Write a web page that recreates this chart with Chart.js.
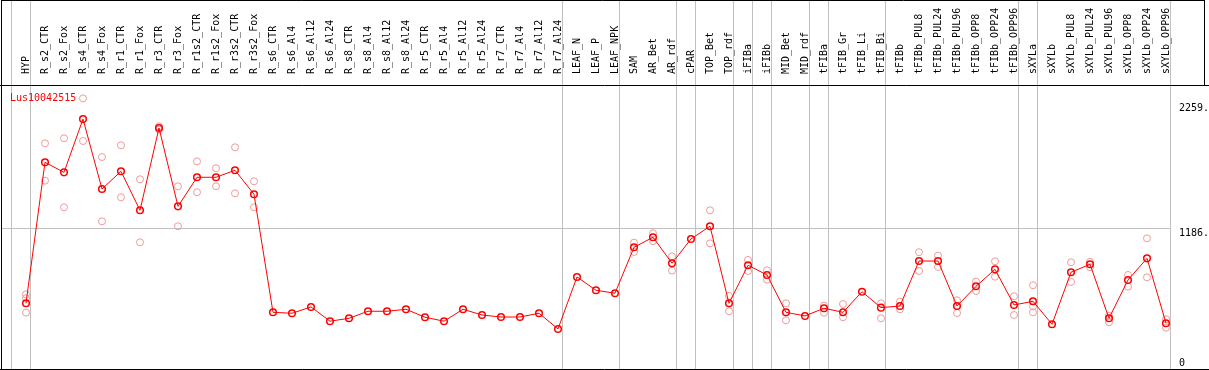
<!DOCTYPE html>
<html>
<head>
<meta charset="utf-8">
<script src="https://cdn.jsdelivr.net/npm/chart.js@4/dist/chart.umd.min.js"></script>
<style>
  html, body { margin: 0; padding: 0; background: #fff; }
  #wrap { width: 1209px; height: 370px; }
</style>
</head>
<body>
<div id="wrap"><canvas id="probeChart" width="1209" height="370"></canvas></div>
<script>
// samples along the x axis
const categories = [
  'HYP', 'R_s2_CTR', 'R_s2_Fox', 'R_s4_CTR', 'R_s4_Fox', 'R_r1_CTR', 'R_r1_Fox', 'R_r3_CTR', 'R_r3_Fox', 'R_r1s2_CTR',
  'R_r1s2_Fox', 'R_r3s2_CTR', 'R_r3s2_Fox', 'R_s6_CTR', 'R_s6_Al4', 'R_s6_Al12', 'R_s6_Al24', 'R_s8_CTR', 'R_s8_Al4', 'R_s8_Al12',
  'R_s8_Al24', 'R_r5_CTR', 'R_r5_Al4', 'R_r5_Al12', 'R_r5_Al24', 'R_r7_CTR', 'R_r7_Al4', 'R_r7_Al12', 'R_r7_Al24', 'LEAF_N',
  'LEAF_P', 'LEAF_NPK', 'SAM', 'AR_Bet', 'AR_rdf', 'cPAR', 'TOP_Bet', 'TOP_rdf', 'iFIBa', 'iFIBb',
  'MID_Bet', 'MID_rdf', 'tFIBa', 'tFIB_Gr', 'tFIB_Li', 'tFIB_Bi', 'tFIBb', 'tFIBb_PUL8', 'tFIBb_PUL24', 'tFIBb_PUL96',
  'tFIBb_OPP8', 'tFIBb_OPP24', 'tFIBb_OPP96', 'sXYLa', 'sXYLb', 'sXYLb_PUL8', 'sXYLb_PUL24', 'sXYLb_PUL96', 'sXYLb_OPP8', 'sXYLb_OPP24',
  'sXYLb_OPP96'
];

// last sample of each group (grey separators)
const groupEnds = ['HYP', 'R_r7_Al24', 'LEAF_NPK', 'AR_rdf', 'cPAR', 'TOP_rdf', 'iFIBa', 'iFIBb',
  'MID_rdf', 'tFIBa', 'tFIB_Bi', 'tFIBb_OPP96', 'sXYLa', 'sXYLb_OPP96'];

const probeName = 'Lus10042515';

// mean expression
const means = [
  546, 1750, 1664, 2119, 1522, 1673, 1340, 2043, 1374, 1622,
  1622, 1682, 1477, 469, 461, 515, 393, 418, 478, 478,
  495, 427, 393, 495, 446, 429, 429, 461, 327, 771,
  657, 632, 1024, 1110, 888, 1095, 1204, 546, 871, 788,
  469, 438, 504, 469, 645, 509, 523, 907, 907, 523,
  691, 836, 532, 563, 367, 811, 879, 418, 745, 930,
  376
];

// replicates
const rep1 = [
  623, 1912, 1955, 2296, 1795, 1895, 1605, 2057, 1545, 1758,
  1699, 1878, 1588, null, null, null, null, null, null, null,
  null, null, null, null, null, null, null, null, null, null,
  null, null, 1064, 1144, 947, null, 1340, 609, 916, 828,
  546, null, 526, 540, null, 546, 560, 982, 953, 572,
  731, 905, 606, 700, null, 896, 901, 440, 788, 1101,
  410
];
const rep2 = [
  589, 1593, 1366, 1932, 1246, 1451, 1067, 2030, 1204, 1494,
  1545, 1485, 1366, null, null, null, null, null, null, null,
  null, null, null, null, null, null, null, null, null, null,
  null, null, 985, 1076, 825, null, 1058, 478, 822, 748,
  401, null, 466, 427, null, 418, 495, 822, 856, 463,
  651, 773, 446, 469, null, 728, 854, 384, 688, 768,
  338
];
const rep3 = [
  466, null, null, null, null, null, null, null, null, null,
  null, null, null, null, null, null, null, null, null, null,
  null, null, null, null, null, null, null, null, null, null,
  null, null, null, null, null, null, null, null, null, null,
  null, null, null, null, null, null, null, null, null, null,
  null, null, null, 520, null, null, null, null, null, null,
  null
];

const yTicks = [0, 1186, 2259];
const yTickLabels = ['0', '1186.', '2259.'];

document.addEventListener('DOMContentLoaded', function() {
    const FONT = '10px "DejaVu Sans Mono", monospace';
    Chart.defaults.font.family = '"DejaVu Sans Mono", monospace';
    Chart.defaults.font.size = 10;
    Chart.defaults.color = '#000';

    const toPoints = (arr) => arr.map((v, i) => ({ x: i, y: v }));

    // grey group separators, black frame, probe name, right-hand values
    const framePlugin = {
        id: 'frame',
        beforeDatasetsDraw(chart) {
            const { ctx, chartArea, scales } = chart;
            ctx.save();
            ctx.strokeStyle = '#c0c0c0';
            ctx.lineWidth = 1;
            const ends = [-1].concat(groupEnds.map(n => categories.indexOf(n)));
            ends.forEach(i => {
                const px = Math.floor(scales.x.getPixelForValue(i + 0.24)) + 0.5;
                ctx.beginPath();
                ctx.moveTo(px, 0);
                ctx.lineTo(px, chartArea.bottom);
                ctx.stroke();
            });
            ctx.restore();
        },
        afterDraw(chart) {
            const { ctx, chartArea, scales, width } = chart;
            ctx.save();
            ctx.strokeStyle = '#000';
            ctx.lineWidth = 1;
            ctx.beginPath();
            // header box
            ctx.moveTo(1, 0.5); ctx.lineTo(1204.5, 0.5);
            ctx.moveTo(1204.5, 0); ctx.lineTo(1204.5, chartArea.top);
            ctx.moveTo(0, chartArea.top + 0.5); ctx.lineTo(width, chartArea.top + 0.5);
            // plot frame
            ctx.moveTo(chartArea.left + 0.5, 0); ctx.lineTo(chartArea.left + 0.5, chartArea.bottom + 1);
            ctx.moveTo(0, chartArea.bottom + 0.5); ctx.lineTo(width, chartArea.bottom + 0.5);
            ctx.stroke();

            ctx.font = FONT;
            ctx.textBaseline = 'alphabetic';
            ctx.fillStyle = '#ff0000';
            ctx.fillText(chart.data.datasets[0].label, 10, chartArea.top + 16);

            ctx.fillStyle = '#000';
            yTicks.forEach((v, k) => {
                const py = Math.min(scales.y.getPixelForValue(v) + 8, chartArea.bottom - 3.5);
                ctx.fillText(yTickLabels[k], chartArea.right + 9, py);
            });
            ctx.restore();
        }
    };

    const repStyle = {
        showLine: false,
        pointStyle: 'circle',
        pointRadius: 3.5,
        pointBorderWidth: 1,
        pointBorderColor: '#ee9a9a',
        pointBackgroundColor: 'rgba(0,0,0,0)'
    };

    new Chart(document.getElementById('probeChart'), {
        type: 'line',
        data: {
            datasets: [{
                label: probeName,
                data: toPoints(means),
                borderColor: '#ff0000',
                borderWidth: 1,
                pointRadius: 3.3,
                pointBorderWidth: 1.5,
                pointBorderColor: '#ff0000',
                pointBackgroundColor: 'rgba(0,0,0,0)',
                tension: 0
            },
            Object.assign({ label: 'rep1', data: toPoints(rep1) }, repStyle),
            Object.assign({ label: 'rep2', data: toPoints(rep2) }, repStyle),
            Object.assign({ label: 'rep3', data: toPoints(rep3) }, repStyle)]
        },
        options: {
            responsive: false,
            animation: false,
            layout: { autoPadding: false, padding: { left: 1, bottom: 1, top: 0, right: 0 } },
            plugins: { legend: { display: false }, tooltip: { enabled: false } },
            scales: {
                x: {
                    type: 'linear',
                    position: 'top',
                    min: -25 / 19,
                    max: -25 / 19 + 1169 / 19,
                    afterBuildTicks: (scale) => { scale.ticks = categories.map((c, i) => ({ value: i })); },
                    afterFit: (scale) => {
                        scale.height = 85;
                        scale.paddingLeft = 0;
                        scale.paddingRight = 0;
                    },
                    grid: { display: false },
                    border: { display: false },
                    ticks: {
                        autoSkip: false,
                        minRotation: 90,
                        maxRotation: 90,
                        padding: 3,
                        labelOffset: 12,
                        callback: (v) => categories[v]
                    }
                },
                y: {
                    position: 'right',
                    min: -15,
                    max: 2410,
                    afterBuildTicks: (scale) => { scale.ticks = yTicks.map(v => ({ value: v })); },
                    afterFit: (scale) => { scale.width = 39; },
                    border: { display: false },
                    grid: {
                        drawTicks: false,
                        color: (c) => (c.tick && c.tick.value === 1186 ? '#c0c0c0' : 'rgba(0,0,0,0)')
                    },
                    ticks: { display: false }
                }
            }
        },
        plugins: [framePlugin]
    });
});
</script>
</body>
</html>
